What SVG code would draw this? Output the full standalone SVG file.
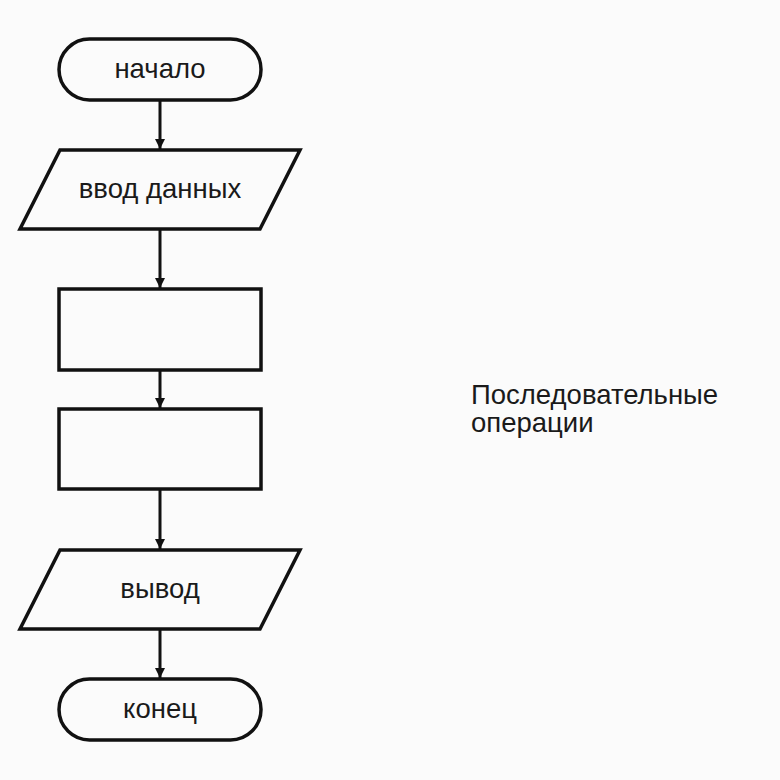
<svg xmlns="http://www.w3.org/2000/svg" width="780" height="780" viewBox="0 0 780 780">
<defs>
<style>
.shape{fill:none;stroke:#111;stroke-width:3.5;stroke-linejoin:miter}
.conn{fill:none;stroke:#111;stroke-width:3}
.lbl{font-family:"Liberation Sans",Arial,sans-serif;font-size:27.5px;fill:#1a1a1a;text-anchor:middle}
.note{font-family:"Liberation Sans",Arial,sans-serif;font-size:27.5px;fill:#1a1a1a}
</style>
<marker id="arr" viewBox="0 0 10 14" refX="10" refY="7" markerWidth="10" markerHeight="14" markerUnits="userSpaceOnUse" orient="auto">
<path d="M0,2 L10,7 L0,12 Z" fill="#111"/>
</marker>
</defs>
<rect x="0" y="0" width="780" height="780" fill="#fbfbfb"/>
<g id="connectors">
<line class="conn" x1="160" y1="101" x2="160" y2="149" marker-end="url(#arr)"/>
<line class="conn" x1="160" y1="230" x2="160" y2="288" marker-end="url(#arr)"/>
<line class="conn" x1="160" y1="370" x2="160" y2="408" marker-end="url(#arr)"/>
<line class="conn" x1="160" y1="490" x2="160" y2="549" marker-end="url(#arr)"/>
<line class="conn" x1="160" y1="630" x2="160" y2="678" marker-end="url(#arr)"/>
</g>
<g id="start">
<rect class="shape" x="59" y="39" width="202" height="61" rx="30.5"/>
<text class="lbl" x="160" y="78">начало</text>
</g>
<g id="input">
<polygon class="shape" points="60,150 300,150 260,229 20,229"/>
<text class="lbl" x="160" y="198">ввод данных</text>
</g>
<g id="op1">
<rect class="shape" x="59" y="289" width="202" height="81"/>
</g>
<g id="op2">
<rect class="shape" x="59" y="409" width="202" height="80"/>
</g>
<g id="output">
<polygon class="shape" points="60,550 300,550 260,629 20,629"/>
<text class="lbl" x="160" y="598">вывод</text>
</g>
<g id="end">
<rect class="shape" x="59" y="679" width="202" height="61" rx="30.5"/>
<text class="lbl" x="160" y="718">конец</text>
</g>
<g id="note">
<text class="note" x="471" y="404">Последовательные</text>
<text class="note" x="471" y="432">операции</text>
</g>
</svg>
